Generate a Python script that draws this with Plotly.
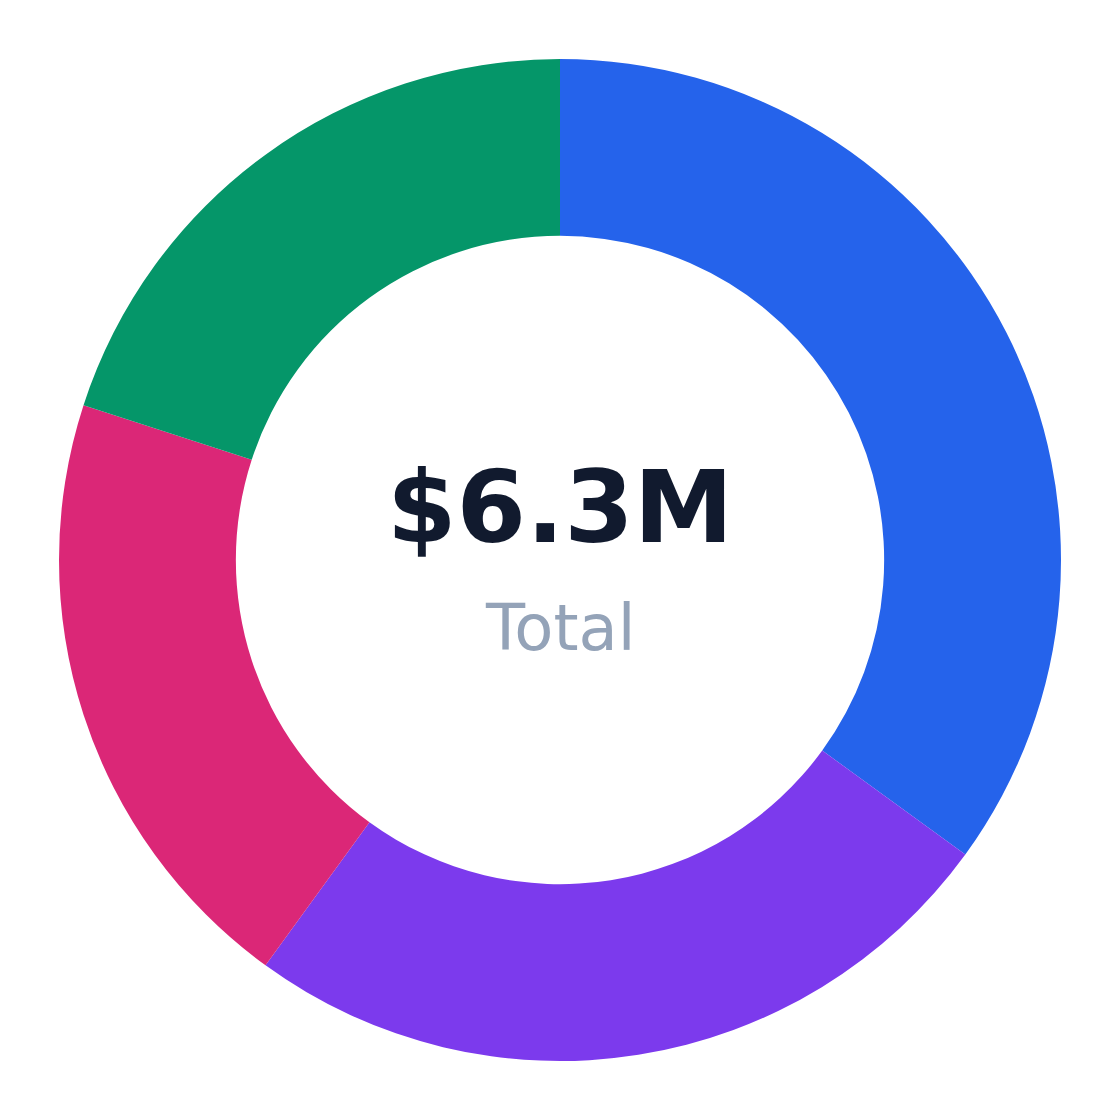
import plotly.graph_objects as go

# Slice shares, clockwise from 12 o'clock
segments = ["Segment A", "Segment B", "Segment C", "Segment D"]
shares = [35, 25, 20, 20]
colors = ["#2563eb", "#7c3aed", "#db2777", "#059669"]
total_label = "$6.3M"
sub_label = "Total"

fig = go.Figure(
    go.Pie(
        labels=segments,
        values=shares,
        hole=0.647,
        sort=False,
        direction="clockwise",
        rotation=0,
        marker=dict(colors=colors, line=dict(width=0)),
        textinfo="none",
        hoverinfo="label+percent",
    )
)

# Center text
fig.add_annotation(
    text="<b>" + total_label + "</b>", x=0.5, y=0.552, xref="paper", yref="paper",
    showarrow=False, font=dict(family="DejaVu Sans", size=100, color="#111a2e"),
)
fig.add_annotation(
    text=sub_label, x=0.5, y=0.432, xref="paper", yref="paper",
    showarrow=False, font=dict(family="DejaVu Sans", size=64, color="#94a3b8"),
)

fig.update_layout(
    width=1120,
    height=1120,
    showlegend=False,
    margin=dict(l=51, r=67, t=51, b=67),
    paper_bgcolor="white",
    plot_bgcolor="white",
)
fig.write_html("out.html")
